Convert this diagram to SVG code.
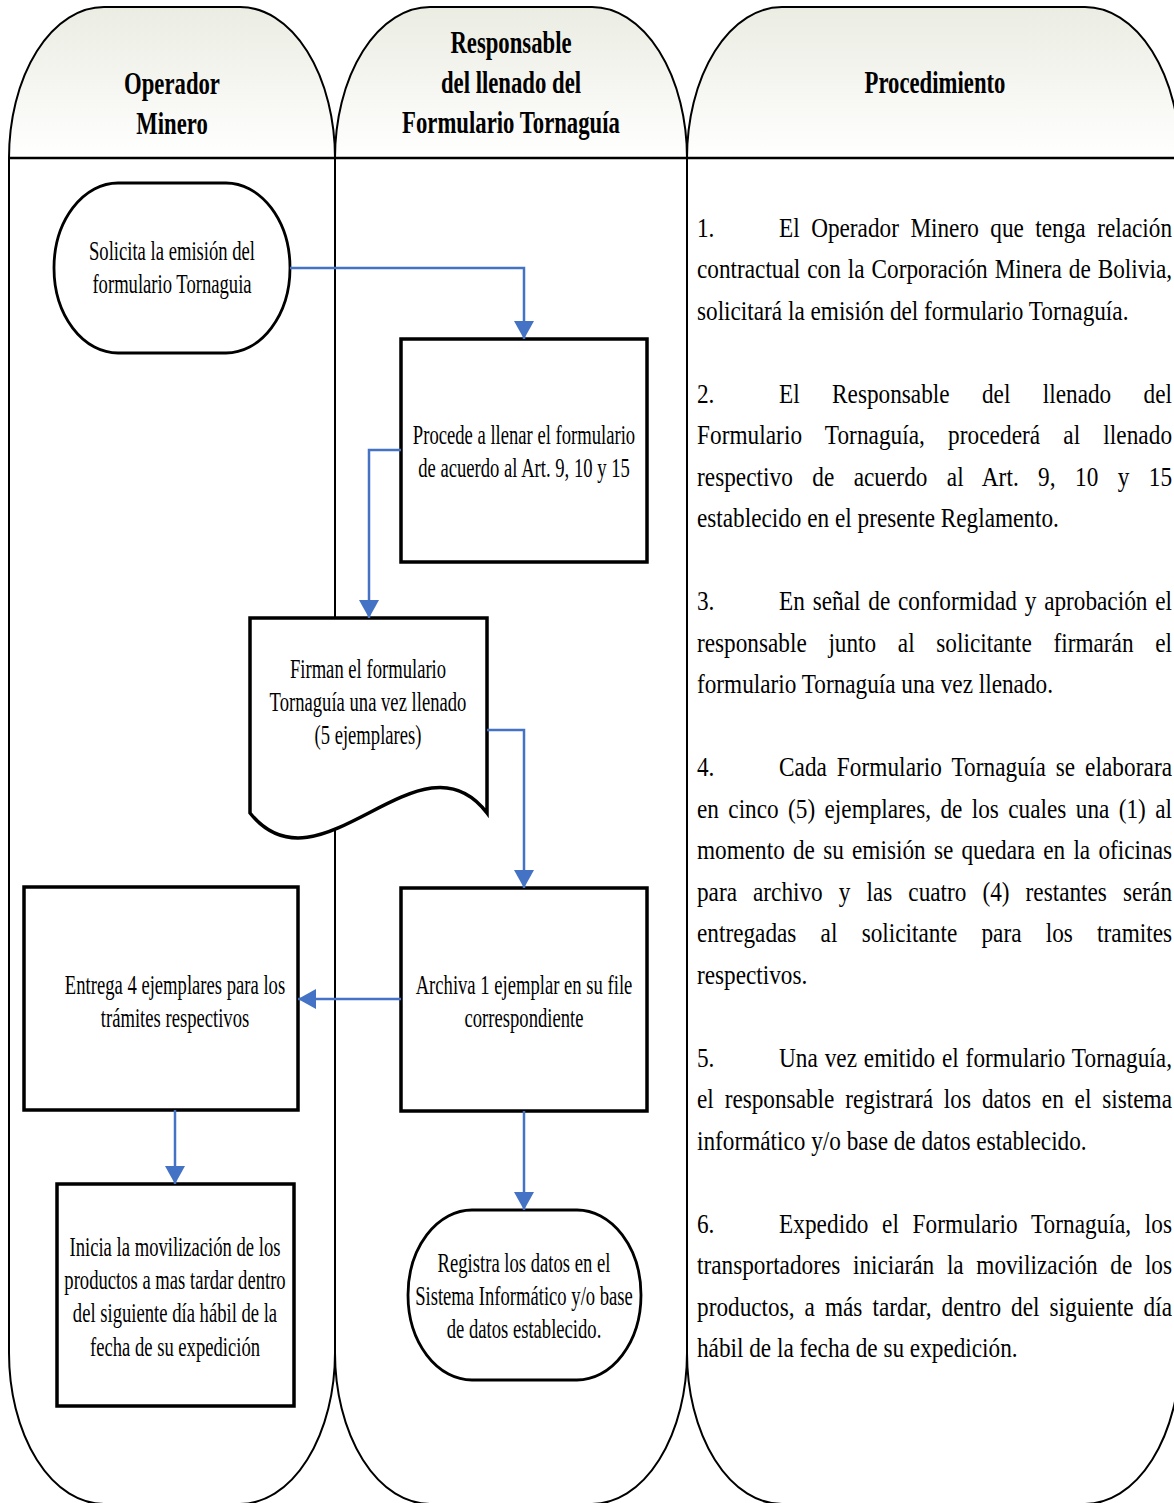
<svg xmlns="http://www.w3.org/2000/svg" width="1174" height="1503" viewBox="0 0 1174 1503">
<style>
.lanefill{fill:#ffffff;stroke:none}
.hdr{fill:url(#hg);stroke:none}
.lane{fill:none;stroke:#000;stroke-width:2}
.node{fill:#fff;stroke:#000;stroke-width:3.5}
.term{fill:#fff;stroke:#000;stroke-width:2.8}
.conn{fill:none;stroke:#4472C4;stroke-width:2.5;marker-end:url(#ah)}
.ht{font-family:"Liberation Serif","Times New Roman",serif;font-weight:bold;font-size:32px;text-anchor:middle;fill:#000}
.nt{font-family:"Liberation Serif","Times New Roman",serif;font-size:27px;text-anchor:middle;fill:#000}
.pt{font-family:"Liberation Serif","Times New Roman",serif;font-size:28px;fill:#000}
</style>
<defs>
<linearGradient id="hg" x1="0" y1="0" x2="0" y2="1">
<stop offset="0" stop-color="#ebece2"/>
<stop offset="1" stop-color="#ffffff"/>
</linearGradient>
<marker id="ah" markerWidth="18" markerHeight="20" refX="18" refY="10" orient="auto" markerUnits="userSpaceOnUse">
<path d="M0,0 L18,10 L0,20 Z" fill="#4472C4"/>
</marker>
</defs>
<rect width="1174" height="1503" fill="#fff"/>
<g id="lanes">
<path class="lanefill" d="M9,158 A95,151 0 0 1 104,7 H240 A95,151 0 0 1 335,158 V1353 A95,151 0 0 1 240,1504 H104 A95,151 0 0 1 9,1353 Z"/>
<path class="lanefill" d="M335,158 A95,151 0 0 1 430,7 H592 A95,151 0 0 1 687,158 V1353 A95,151 0 0 1 592,1504 H430 A95,151 0 0 1 335,1353 Z"/>
<path class="lanefill" d="M687,158 A95,151 0 0 1 782,7 H1085 A95,151 0 0 1 1180,158 V1353 A95,151 0 0 1 1085,1504 H782 A95,151 0 0 1 687,1353 Z"/>
<path class="hdr" d="M9,158 A95,151 0 0 1 104,7 H240 A95,151 0 0 1 335,158 Z"/>
<path class="hdr" d="M335,158 A95,151 0 0 1 430,7 H592 A95,151 0 0 1 687,158 Z"/>
<path class="hdr" d="M687,158 A95,151 0 0 1 782,7 H1085 A95,151 0 0 1 1180,158 Z"/>
<path class="lane" d="M9,158 A95,151 0 0 1 104,7 H240 A95,151 0 0 1 335,158 V1353 A95,151 0 0 1 240,1504 H104 A95,151 0 0 1 9,1353 Z"/>
<path class="lane" d="M335,158 A95,151 0 0 1 430,7 H592 A95,151 0 0 1 687,158 V1353 A95,151 0 0 1 592,1504 H430 A95,151 0 0 1 335,1353 Z"/>
<path class="lane" d="M687,158 A95,151 0 0 1 782,7 H1085 A95,151 0 0 1 1180,158 V1353 A95,151 0 0 1 1085,1504 H782 A95,151 0 0 1 687,1353 Z"/>
<line x1="9" y1="158" x2="1174" y2="158" stroke="#000" stroke-width="2.5"/>
<text class="ht" transform="translate(172 0) scale(0.71 1)" y="94">Operador</text>
<text class="ht" transform="translate(172 0) scale(0.71 1)" y="134">Minero</text>
<text class="ht" transform="translate(511 0) scale(0.71 1)" y="53">Responsable</text>
<text class="ht" transform="translate(511 0) scale(0.71 1)" y="93">del llenado del</text>
<text class="ht" transform="translate(511 0) scale(0.71 1)" y="133">Formulario Tornaguía</text>
<text class="ht" transform="translate(935 0) scale(0.71 1)" y="93">Procedimiento</text>
</g>
<g id="n1">
<rect class="term" x="54" y="183" width="236" height="170" rx="64" ry="85"/>
<text class="nt" transform="translate(172 0) scale(0.69 1)" y="260">Solicita la emisión del</text>
<text class="nt" transform="translate(172 0) scale(0.69 1)" y="293">formulario Tornaguia</text>
</g>
<g id="n2">
<rect class="node" x="401" y="339" width="246" height="223"/>
<text class="nt" transform="translate(524 0) scale(0.69 1)" y="444">Procede a llenar el formulario</text>
<text class="nt" transform="translate(524 0) scale(0.69 1)" y="477">de acuerdo al Art. 9, 10 y 15</text>
</g>
<g id="n3">
<path class="node" d="M250,618 H487 V813 C420,725 320,900 250,813 Z"/>
<text class="nt" transform="translate(368 0) scale(0.69 1)" y="678">Firman el formulario</text>
<text class="nt" transform="translate(368 0) scale(0.69 1)" y="711">Tornaguía una vez llenado</text>
<text class="nt" transform="translate(368 0) scale(0.69 1)" y="744">(5 ejemplares)</text>
</g>
<g id="n4">
<rect class="node" x="401" y="888" width="246" height="223"/>
<text class="nt" transform="translate(524 0) scale(0.69 1)" y="994">Archiva 1 ejemplar en su file</text>
<text class="nt" transform="translate(524 0) scale(0.69 1)" y="1027">correspondiente</text>
</g>
<g id="n5">
<rect class="node" x="24" y="887" width="274" height="223"/>
<text class="nt" transform="translate(175 0) scale(0.69 1)" y="994">Entrega 4 ejemplares para los</text>
<text class="nt" transform="translate(175 0) scale(0.69 1)" y="1027">trámites respectivos</text>
</g>
<g id="n6">
<rect class="node" x="57" y="1184" width="237" height="222"/>
<text class="nt" transform="translate(175 0) scale(0.69 1)" y="1256">Inicia la movilización de los</text>
<text class="nt" transform="translate(175 0) scale(0.69 1)" y="1289">productos a mas tardar dentro</text>
<text class="nt" transform="translate(175 0) scale(0.69 1)" y="1322">del siguiente día hábil de la</text>
<text class="nt" transform="translate(175 0) scale(0.69 1)" y="1356">fecha de su expedición</text>
</g>
<g id="n7">
<rect class="term" x="408" y="1210" width="233" height="170" rx="64" ry="85"/>
<text class="nt" transform="translate(524 0) scale(0.69 1)" y="1272">Registra los datos en el</text>
<text class="nt" transform="translate(524 0) scale(0.69 1)" y="1305">Sistema Informático y/o base</text>
<text class="nt" transform="translate(524 0) scale(0.69 1)" y="1338">de datos establecido.</text>
</g>
<g id="connectors">
<path class="conn" d="M290,268 H524 V339"/>
<path class="conn" d="M401,450 H369 V618"/>
<path class="conn" d="M487,730 H524 V888"/>
<path class="conn" d="M401,999 H298"/>
<path class="conn" d="M175,1110 V1184"/>
<path class="conn" d="M524,1111 V1210"/>
</g>
<g id="procedimiento" class="pt" transform="translate(697 0) scale(0.83 1)">
<text x="0" y="237">1.</text>
<text x="98.8" y="237" style="word-spacing:6.84px" textLength="473.5" lengthAdjust="spacing">El Operador Minero que tenga relación</text>
<text x="0" y="278.5" style="word-spacing:1.42px" textLength="572.3" lengthAdjust="spacing">contractual con la Corporación Minera de Bolivia,</text>
<text x="0" y="320">solicitará la emisión del formulario Tornaguía.</text>

<text x="0" y="403">2.</text>
<text x="98.8" y="403" style="word-spacing:32.05px" textLength="473.5" lengthAdjust="spacing">El Responsable del llenado del</text>
<text x="0" y="444.5" style="word-spacing:20.8px" textLength="572.3" lengthAdjust="spacing">Formulario Tornaguía, procederá al llenado</text>
<text x="0" y="486" style="word-spacing:16.3px" textLength="572.3" lengthAdjust="spacing">respectivo de acuerdo al Art. 9, 10 y 15</text>
<text x="0" y="527.5">establecido en el presente Reglamento.</text>

<text x="0" y="610.5">3.</text>
<text x="98.8" y="610.5" style="word-spacing:2.45px" textLength="473.5" lengthAdjust="spacing">En señal de conformidad y aprobación el</text>
<text x="0" y="652" style="word-spacing:19.1px" textLength="572.3" lengthAdjust="spacing">responsable junto al solicitante firmarán el</text>
<text x="0" y="693.5">formulario Tornaguía una vez llenado.</text>

<text x="0" y="776.5">4.</text>
<text x="98.8" y="776.5" style="word-spacing:4.85px" textLength="473.5" lengthAdjust="spacing">Cada Formulario Tornaguía se elaborara</text>
<text x="0" y="818" style="word-spacing:4.32px" textLength="572.3" lengthAdjust="spacing">en cinco (5) ejemplares, de los cuales una (1) al</text>
<text x="0" y="859.5" style="word-spacing:2.91px" textLength="572.3" lengthAdjust="spacing">momento de su emisión se quedara en la oficinas</text>
<text x="0" y="901" style="word-spacing:12.34px" textLength="572.3" lengthAdjust="spacing">para archivo y las cuatro (4) restantes serán</text>
<text x="0" y="942.5" style="word-spacing:22.24px" textLength="572.3" lengthAdjust="spacing">entregadas al solicitante para los tramites</text>
<text x="0" y="984">respectivos.</text>

<text x="0" y="1067">5.</text>
<text x="98.8" y="1067" style="word-spacing:1.08px" textLength="473.5" lengthAdjust="spacing">Una vez emitido el formulario Tornaguía,</text>
<text x="0" y="1108.5" style="word-spacing:6.1px" textLength="572.3" lengthAdjust="spacing">el responsable registrará los datos en el sistema</text>
<text x="0" y="1150">informático y/o base de datos establecido.</text>

<text x="0" y="1233">6.</text>
<text x="98.8" y="1233" style="word-spacing:9.3px" textLength="473.5" lengthAdjust="spacing">Expedido el Formulario Tornaguía, los</text>
<text x="0" y="1274.5" style="word-spacing:8.24px" textLength="572.3" lengthAdjust="spacing">transportadores iniciarán la movilización de los</text>
<text x="0" y="1316" style="word-spacing:5px" textLength="572.3" lengthAdjust="spacing">productos, a más tardar, dentro del siguiente día</text>
<text x="0" y="1357.5">hábil de la fecha de su expedición.</text>
</g>
</svg>
